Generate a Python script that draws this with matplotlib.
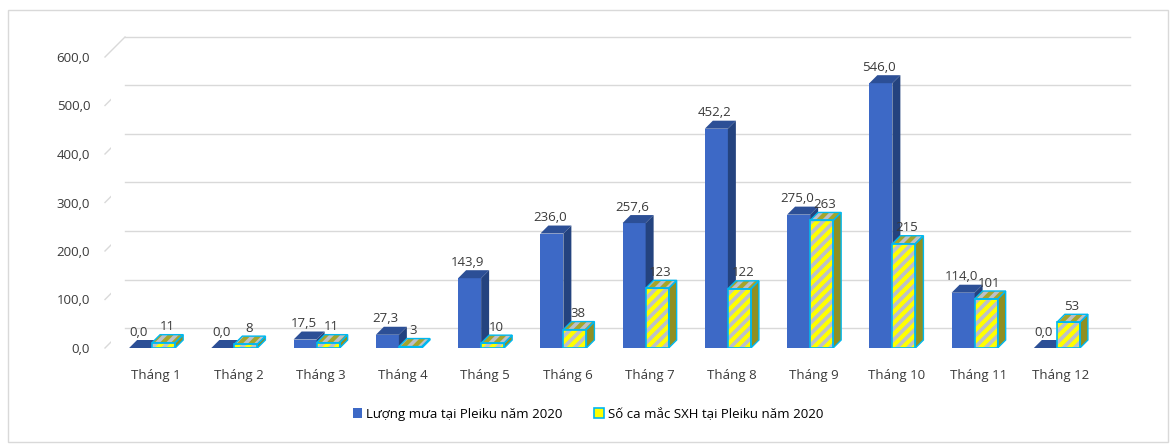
import matplotlib
matplotlib.use("Agg")
import matplotlib.pyplot as plt
import matplotlib.transforms as mtransforms
from matplotlib.patches import Polygon, Rectangle, Patch
import numpy as np

months = ["Tháng 1", "Tháng 2", "Tháng 3", "Tháng 4", "Tháng 5", "Tháng 6",
          "Tháng 7", "Tháng 8", "Tháng 9", "Tháng 10", "Tháng 11", "Tháng 12"]
rain = [0.0, 0.0, 17.5, 27.3, 143.9, 236.0, 257.6, 452.2, 275.0, 546.0, 114.0, 0.0]
cases = [11, 8, 11, 3, 10, 38, 123, 122, 263, 215, 101, 53]
yticks = [0, 100, 200, 300, 400, 500, 600]
rain_label = "Lượng mưa tại Pleiku năm 2020"
cases_label = "Số ca mắc SXH tại Pleiku năm 2020"

plt.rcParams["font.family"] = ["Open Sans", "DejaVu Sans"]
plt.rcParams["hatch.linewidth"] = 2.6

W, H, DPI = 1176, 444, 100
fig = plt.figure(figsize=(W / DPI, H / DPI), dpi=DPI)
# light border round the chart
fig.patches.append(Rectangle((8 / W, 2 / H), 1160 / W, 432 / H, transform=fig.transFigure,
                             fill=False, edgecolor="#d9d9d9", linewidth=1))

ax_left, ax_right = 111, 1098
ax_bottom, ax_top = 348, 57
ax = fig.add_axes([ax_left / W, (H - ax_bottom) / H, (ax_right - ax_left) / W, (ax_bottom - ax_top) / H])
ax.set_xlim(-0.5, len(months) - 0.5)
ax.set_ylim(0, 600)
for s in ax.spines.values():
    s.set_visible(False)

# perspective gridlines: slant from the front edge, then the back wall
grid_c = "#d9d9d9"
blend = mtransforms.blended_transform_factory(fig.transFigure, ax.transData)
back = blend + mtransforms.ScaledTranslation(0, 20 / DPI, fig.dpi_scale_trans)
inv = fig.transFigure.inverted()
for yv in yticks:
    f0 = inv.transform(blend.transform((105 / W, yv)))
    f1 = inv.transform(back.transform((125 / W, yv)))
    fig.add_artist(plt.Line2D([f0[0], f1[0]], [f0[1], f1[1]], color=grid_c, lw=1,
                              transform=fig.transFigure, zorder=0))
    ax.plot([125 / W, 1130 / W], [yv, yv], color=grid_c, lw=1, transform=back, clip_on=False, zorder=0)

x = np.arange(len(months))
width = 0.28
# depth of the 3d bars in data units (8 px right, 8 px up)
ddx = 8 * len(months) / (ax_right - ax_left)
ddy = 8 * 600 / (ax_bottom - ax_top)

blue_front, blue_top, blue_side = "#3d69c6", "#2c4f96", "#24437f"
yellow, stripe, cyan = "#ffff00", "#bcc0c8", "#00b8f0"
bars_r = ax.bar(x - width / 2, rain, width, color=blue_front, edgecolor="none", zorder=2)
bars_c = ax.bar(x + width / 2, cases, width, color=yellow, edgecolor=stripe, linewidth=0,
                hatch="///", zorder=3)
ax.bar(x + width / 2, cases, width, fill=False, edgecolor=cyan, linewidth=1.2, zorder=3.5)


def faces(b):
    x0, w, h = b.get_x(), b.get_width(), b.get_height()
    x1 = x0 + w
    top = [(x0, h), (x1, h), (x1 + ddx, h + ddy), (x0 + ddx, h + ddy)]
    side = [(x1, 0), (x1 + ddx, ddy), (x1 + ddx, h + ddy), (x1, h)]
    return top, side


for b in bars_r:
    top, side = faces(b)
    ax.add_patch(Polygon(top, closed=True, facecolor=blue_top, edgecolor="none", zorder=2))
    ax.add_patch(Polygon(side, closed=True, facecolor=blue_side, edgecolor="none", zorder=2))
for b in bars_c:
    top, side = faces(b)
    ax.add_patch(Polygon(top, closed=True, facecolor="#a5a52a", edgecolor=stripe, hatch="///",
                         linewidth=0, zorder=3))
    ax.add_patch(Polygon(side, closed=True, facecolor="#8f8f22", edgecolor=cyan,
                         linewidth=1.0, zorder=3))
    ax.add_patch(Polygon(top, closed=True, fill=False, edgecolor=cyan, linewidth=1.0, zorder=3.6))

lab_c = "#3a3a3a"
for b, v in zip(bars_r, rain):
    ax.text(b.get_x() + b.get_width() / 2 - 0.02, b.get_height() + ddy + 3, f"{v:.1f}".replace(".", ","),
            ha="center", va="bottom", fontsize=9.5, color=lab_c, zorder=5)
for b, v in zip(bars_c, cases):
    ax.text(b.get_x() + b.get_width() / 2 + 0.04, b.get_height() + ddy + 3, f"{v}",
            ha="center", va="bottom", fontsize=9.5, color=lab_c, zorder=5)

ax.set_yticks(yticks)
ax.set_yticklabels([f"{v:.1f}".replace(".", ",") for v in yticks], fontsize=9.5, color=lab_c)
ax.set_xticks(x + 0.05)
ax.set_xticklabels(months, fontsize=9.5, color=lab_c)
ax.tick_params(axis="y", length=0, pad=15)
ax.tick_params(axis="x", length=0, pad=15)

handles = [Patch(facecolor=blue_front, edgecolor="none", label=rain_label),
           Patch(facecolor=yellow, edgecolor=cyan, linewidth=1.2, label=cases_label)]
fig.legend(handles=handles, loc="center", bbox_to_anchor=(0.5, 30 / H), ncol=2, frameon=False,
           fontsize=9.5, handlelength=0.7, handleheight=0.7, handletextpad=0.3, columnspacing=2.4)

fig.savefig("out.png", dpi=DPI)
